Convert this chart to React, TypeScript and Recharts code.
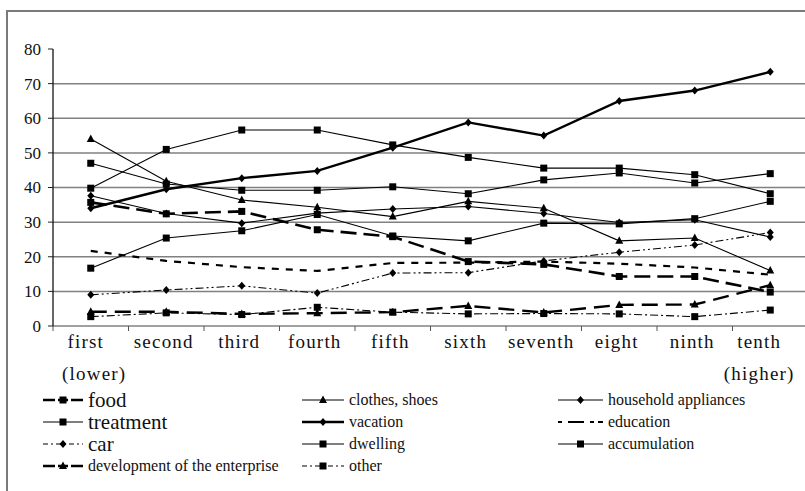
import React from 'react';
import { LineChart, Line, XAxis, YAxis, ReferenceLine } from 'recharts';

const CATEGORIES = ['first', 'second', 'third', 'fourth', 'fifth', 'sixth', 'seventh', 'eight', 'ninth', 'tenth'];
const SUBLABELS = ['(lower)', '', '', '', '', '', '', '', '', '(higher)'];
const Y_TICKS = [0, 10, 20, 30, 40, 50, 60, 70, 80];
const GRID_VALUES = [10, 20, 30, 40, 50, 60, 70];

const food = [35.7, 32.4, 33.1, 27.8, 25.8, 18.6, 17.8, 14.3, 14.3, 9.8];
const clothes = [54, 41.8, 36.4, 34.3, 31.6, 36, 34, 24.6, 25.4, 16];
const household = [37.6, 32.5, 29.7, 32.6, 33.8, 34.5, 32.5, 29.9, 30.7, 25.7];
const treatment = [47, 41, 39.2, 39.2, 40.2, 38.2, 42.2, 44.2, 41.3, 44];
const vacation = [34, 39.5, 42.7, 44.8, 51.5, 58.8, 55, 65, 68, 73.4];
const education = [21.7, 18.8, 17, 15.9, 18.2, 18.3, 18.6, 18, 16.9, 14.8];
const car = [9, 10.4, 11.6, 9.5, 15.3, 15.4, 18.8, 21.3, 23.4, 27];
const dwelling = [16.7, 25.4, 27.5, 32.2, 26, 24.6, 29.7, 29.5, 31, 36];
const accumulation = [39.8, 51, 56.6, 56.6, 52.3, 48.7, 45.6, 45.6, 43.7, 38.2];
const development = [4.1, 4.1, 3.5, 3.7, 4.0, 5.8, 3.9, 6.1, 6.2, 11.8];
const other = [2.7, 3.8, 3.3, 5.4, 4.0, 3.5, 3.6, 3.5, 2.7, 4.6];

type Marker = 'square' | 'diamond' | 'triangle' | 'none';
interface SeriesDef {
  key: string;
  name: string;
  values: number[];
  marker: Marker;
  width: number;
  dash?: string;
  legendDash?: string;
  big?: boolean;
}

const SERIES: SeriesDef[] = [
  { key: 'food', name: 'food', values: food, marker: 'square', width: 2.6, dash: '16 7', legendDash: '12 3 10 3 20', big: true },
  { key: 'clothes', name: 'clothes, shoes', values: clothes, marker: 'triangle', width: 1.1 },
  { key: 'household', name: 'household appliances', values: household, marker: 'diamond', width: 1.1 },
  { key: 'treatment', name: 'treatment', values: treatment, marker: 'square', width: 1.1, big: true },
  { key: 'vacation', name: 'vacation', values: vacation, marker: 'diamond', width: 2.4 },
  { key: 'education', name: 'education', values: education, marker: 'none', width: 2.2, dash: '7 7', legendDash: '4 6 16 6 4' },
  { key: 'car', name: 'car', values: car, marker: 'diamond', width: 1.1, dash: '8 3 2 3 2 3', legendDash: '5 3 2 3' },
  { key: 'dwelling', name: 'dwelling', values: dwelling, marker: 'square', width: 1.1 },
  { key: 'accumulation', name: 'accumulation', values: accumulation, marker: 'square', width: 1.1 },
  { key: 'development', name: 'development of the enterprise', values: development, marker: 'triangle', width: 2.4, dash: '16 8', legendDash: '12 3 10 3 20' },
  { key: 'other', name: 'other', values: other, marker: 'square', width: 1.1, dash: '8 3 2 3', legendDash: '5 3 2 3' },
];
SERIES[6].big = true;

const data = CATEGORIES.map((c, i) => {
  const row: Record<string, number | string> = { x: i + 0.5, cat: c };
  SERIES.forEach((s) => {
    row[s.key] = s.values[i];
  });
  return row;
});

const CHART_W = 810;
const CHART_H = 491;
const PLOT_LEFT = 53;
const PLOT_RIGHT_MARGIN = 2;
const PLOT_TOP = 49;
const PLOT_BOTTOM = 326;
const STEP = (CHART_W - PLOT_LEFT - PLOT_RIGHT_MARGIN) / CATEGORIES.length;
const FONT = 'Liberation Serif, DejaVu Serif, Times New Roman, serif';
const INK = '#111';
const TXT = { fontFamily: FONT };

function drawMarker(marker: Marker, cx: number, cy: number, key?: string) {
  if (marker === 'square') {
    return <rect key={key} x={cx - 3.5} y={cy - 3.5} width={7} height={7} fill="#000" />;
  }
  if (marker === 'diamond') {
    return (
      <polygon key={key} points={`${cx},${cy - 4} ${cx + 3.5},${cy} ${cx},${cy + 4} ${cx - 3.5},${cy}`} fill="#000" />
    );
  }
  if (marker === 'triangle') {
    return (
      <polygon key={key} points={`${cx},${cy - 4.5} ${cx + 4},${cy + 3} ${cx - 4},${cy + 3}`} fill="#000" />
    );
  }
  return <g key={key} />;
}

const makeDot = (marker: Marker) => (props: any) => {
  const { cx, cy, index } = props;
  if (cx == null || cy == null) return <g key={index} />;
  return drawMarker(marker, cx, cy, `m${index}`);
};

const XTick = (props: any) => {
  const { x, payload } = props;
  const v = payload.value as number;
  if (v >= CATEGORIES.length) return <g />;
  const cx = x + STEP / 2;
  let dx1 = -2.5;
  let dx2 = 0;
  if (v === 0) {
    dx1 = -5;
    dx2 = 3.5;
  }
  if (v === CATEGORIES.length - 1) {
    dx1 = -11;
    dx2 = -11;
  }
  return (
    <g>
      <text x={cx + dx1} y={PLOT_BOTTOM + 22} textAnchor="middle" style={TXT} fontSize={19} letterSpacing={1.2} fill={INK}>
        {CATEGORIES[v]}
      </text>
      {SUBLABELS[v] ? (
        <text x={cx + dx2} y={PLOT_BOTTOM + 54} textAnchor="middle" style={TXT} fontSize={19} letterSpacing={1.2} fill={INK}>
          {SUBLABELS[v]}
        </text>
      ) : null}
    </g>
  );
};

const YTick = (props: any) => {
  const { y, payload } = props;
  return (
    <text x={41} y={y} dy="0.35em" textAnchor="end" style={TXT} fontSize={17} fill={INK}>
      {payload.value}
    </text>
  );
};

const LEG_COL_X = [43, 302, 558];
const LEG_SAMPLE_W = [40, 42, 45];
const LEG_ROW_Y = [400, 422, 444, 466];

function LegendBlock() {
  return (
    <svg width={805} height={491} style={{ position: 'absolute', left: 0, top: 0, pointerEvents: 'none' }}>
      {SERIES.map((s, i) => {
        const col = i % 3;
        const row = Math.floor(i / 3);
        const x0 = LEG_COL_X[col];
        const w = LEG_SAMPLE_W[col];
        const y = LEG_ROW_Y[row];
        return (
          <g key={s.key}>
            <line x1={x0} y1={y} x2={x0 + w} y2={y} stroke="#000" strokeWidth={s.width} strokeDasharray={s.legendDash} />
            {drawMarker(s.marker, x0 + w / 2, y)}
            <text x={x0 + w + 5} y={y} dy="0.33em" style={TXT} fontSize={s.big ? 21 : 16} fill={INK}>
              {s.name}
            </text>
          </g>
        );
      })}
    </svg>
  );
}

export default function App() {
  return (
    <div style={{ position: 'absolute', left: 0, top: 0, width: 805, height: 491, overflow: 'hidden', background: '#fff', fontFamily: FONT }}>
      <div style={{ position: 'absolute', left: 6, top: 10, width: 900, height: 600, border: '2px solid #7a7a7a' }} />
      <div style={{ position: 'absolute', left: 0, top: 0 }}>
        <LineChart width={CHART_W} height={CHART_H} data={data} margin={{ top: PLOT_TOP, right: PLOT_RIGHT_MARGIN, left: 0, bottom: 0 }}>
          {GRID_VALUES.map((g) => (
            <ReferenceLine key={g} y={g} stroke="#808080" strokeWidth={1.5} />
          ))}
          <XAxis
            dataKey="x"
            type="number"
            domain={[0, CATEGORIES.length]}
            ticks={Array.from({ length: CATEGORIES.length + 1 }, (_, i) => i)}
            interval={0}
            height={CHART_H - PLOT_BOTTOM}
            axisLine={{ stroke: '#808080', strokeWidth: 1.5 }}
            tickLine={{ stroke: '#555' }}
            tickSize={5}
            tick={<XTick />}
          />
          <YAxis
            domain={[0, 80]}
            ticks={Y_TICKS}
            interval={0}
            width={PLOT_LEFT}
            axisLine={{ stroke: '#000', strokeWidth: 1.2 }}
            tickLine={{ stroke: '#222' }}
            tickSize={5}
            tick={<YTick />}
          />
          {SERIES.map((s) => (
            <Line
              key={s.key}
              dataKey={s.key}
              name={s.name}
              type="linear"
              stroke="#000"
              strokeWidth={s.width}
              strokeDasharray={s.dash}
              dot={makeDot(s.marker)}
              activeDot={false}
              isAnimationActive={false}
            />
          ))}
        </LineChart>
      </div>
      <LegendBlock />
    </div>
  );
}
